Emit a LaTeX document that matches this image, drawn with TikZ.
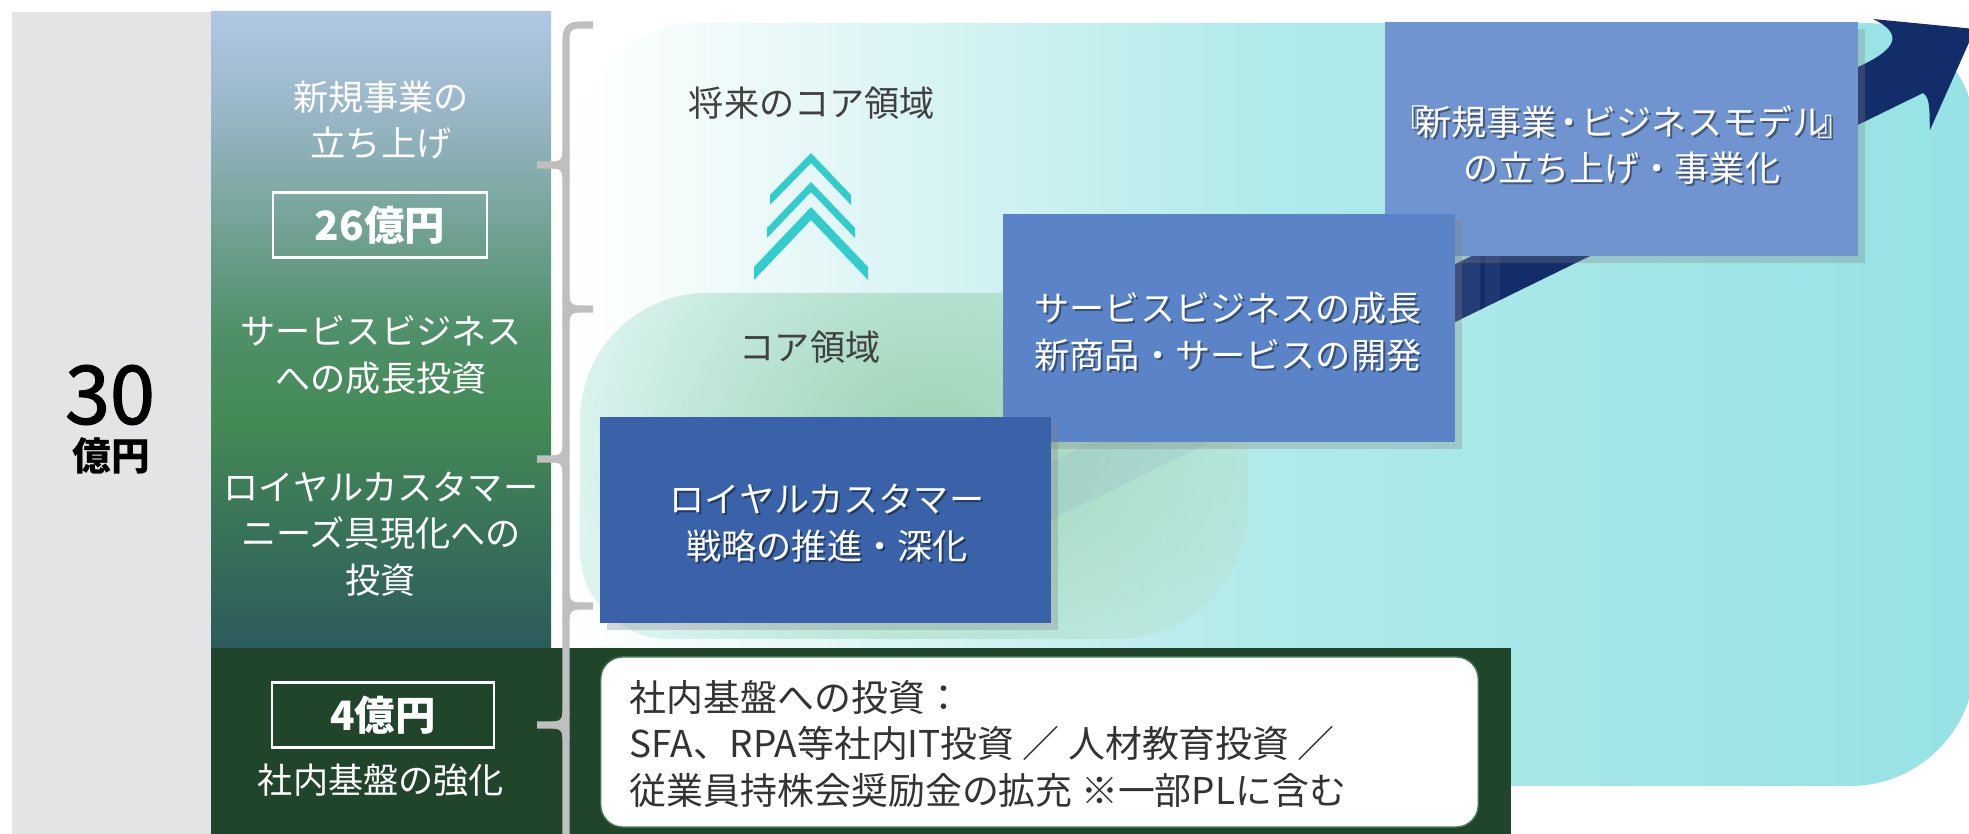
\documentclass[tikz,border=0pt]{standalone}
\usepackage{fontspec}
\setmainfont{Noto Sans CJK JP}
\newfontfamily\numfont{Noto Sans CJK JP}[UprightFeatures={FakeBold=1.6}]
\usetikzlibrary{shadows,fadings}
\definecolor{graycol}{HTML}{E3E4E6}
\definecolor{gA}{HTML}{B1C7E5}
\definecolor{gB}{HTML}{97B5C4}
\definecolor{gC}{HTML}{4F9069}
\definecolor{gD}{HTML}{448A56}
\definecolor{gE}{HTML}{2C5A5C}
\definecolor{darkgreen}{HTML}{21452B}
\definecolor{outA}{HTML}{EAF8F8}
\definecolor{outB}{HTML}{B2EAEA}
\definecolor{outC}{HTML}{96E2E4}
\definecolor{inA}{HTML}{DDF4F1}
\definecolor{inB}{HTML}{B6E8E2}
\definecolor{inG}{HTML}{9ED4B4}
\definecolor{chevcol}{HTML}{33CCCC}
\definecolor{arrownavy}{HTML}{132D6B}
\definecolor{nbcol}{HTML}{7094D0}
\definecolor{svcol}{HTML}{5B84C8}
\definecolor{lycol}{HTML}{3A62A8}
\definecolor{bracegray}{HTML}{BFBFBF}
\definecolor{darktxt}{HTML}{404040}
\definecolor{wbtxt}{HTML}{333333}
\definecolor{wbborder}{HTML}{3E7A4E}
\definecolor{tailc}{HTML}{8FB0C8}
\tikzfading[name=softblob, inner color=transparent!0, outer color=transparent!100]
\tikzset{
  coltext/.style={text=white, align=center, inner sep=0pt, font=\fontsize{10}{13.3}\selectfont},
  amtbox/.style={draw=white, line width=0.6pt, text=white, inner sep=0pt, font=\fontsize{11.5}{12}\selectfont\bfseries},
  darktext/.style={text=darktxt, inner sep=0pt, font=\fontsize{10}{12}\selectfont},
  bluebox/.style={inner sep=0pt, drop shadow={shadow xshift=2pt, shadow yshift=-2pt, opacity=0.3}},
  boxtext/.style={text=white, align=center, inner sep=0pt, font=\fontsize{10}{13.3}\selectfont},
  boxshade/.style={text=black, text opacity=0.4, align=center, inner sep=0pt, font=\fontsize{10}{13.3}\selectfont},
  brace/.style={draw=bracegray, line width=2pt},
  chev/.style={fill=chevcol},
}
\begin{document}
\begin{tikzpicture}[x=0.01cm,y=-0.01cm]
\useasboundingbox (0,0) rectangle (1969,834);
\fill[white] (0,0) rectangle (1969,834);

% left gray column
\fill[graycol] (12,12) rectangle (212,834);
% gradient column
\begin{scope}
\clip (211,12) rectangle (551,648);
\shade[top color=gA, bottom color=gB] (211,11) rectangle (551,121);
\shade[top color=gB, bottom color=gC] (211,120) rectangle (551,331);
\shade[top color=gC, bottom color=gD] (211,330) rectangle (551,421);
\shade[top color=gD, bottom color=gE] (211,420) rectangle (551,649);
\end{scope}

% outer light region
\begin{scope}
\clip (580,786) -- (580,143) .. controls (580,77) and (634,23) .. (700,23) -- (1865,23) .. controls (1926,23) and (1975,72) .. (1975,133) -- (1975,661) .. controls (1975,730) and (1919,786) .. (1850,786) -- cycle;
\shade[left color=white, right color=outA] (580,0) rectangle (781,834);
\shade[left color=outA, right color=outB] (780,0) rectangle (1251,834);
\shade[left color=outB, right color=outC] (1250,0) rectangle (1976,834);
\end{scope}

% inner core region
\begin{scope}
\clip (580,550) -- (580,420) .. controls (580,350) and (637,293) .. (707,293) -- (1247,293) -- (1247,509) .. controls (1247,581) and (1189,639) .. (1117,639) -- (670,639) .. controls (620,639) and (580,600) .. (580,550) -- cycle;
\shade[left color=inA, right color=inB] (580,290) rectangle (1250,642);
\fill[inG, path fading=softblob] (930,440) ellipse (360 and 280);
\end{scope}

% chevrons
\fill[chev] (811,153) -- (851,195) -- (851,205) -- (811,163) -- (770,205) -- (770,195) -- cycle;
\fill[chev] (811,182) -- (855,228) -- (855,238) -- (811,192) -- (767,238) -- (767,228) -- cycle;
\fill[chev] (811,207) -- (868,267) -- (868,280) -- (811,220) -- (754,280) -- (754,267) -- cycle;

\node[darktext] (fut) at (812,103) {将来のコア領域};
\node[darktext] (core) at (810,347) {コア領域};

% arrow
\fill[tailc, opacity=0.22] (1000,487) -- (1300,340) -- (1300,398) -- (1000,545) -- cycle;
\fill[arrownavy] (1300,340) -- (1858,67) .. controls (1900,48) and (1902,33) .. (1873,19) -- (1975,29) -- (1930,130) .. controls (1929,113) and (1931,98) .. (1923,93) -- (1300,398) -- cycle;
\fill[white, opacity=0.08] (1455,264) -- (1480,252) -- (1480,316) -- (1455,328) -- cycle;
\fill[white, opacity=0.05] (1485,249) -- (1500,242) -- (1500,306) -- (1485,313) -- cycle;

% blue boxes
\node[bluebox, fill=nbcol, minimum width=4.73cm, minimum height=2.34cm] (nb) at (1621.5,139) {};
\node[boxshade] (nbs) at (1624,147) {『\kern-.3em 新規事業\kern-.15em・\kern-.15em ビジネスモデル\kern-.3em』\\の立ち上げ・事業化};
\node[boxtext] (nbt) at (1622,145) {『\kern-.3em 新規事業\kern-.15em・\kern-.15em ビジネスモデル\kern-.3em』\\の立ち上げ・事業化};

\node[bluebox, fill=svcol, minimum width=4.52cm, minimum height=2.28cm] (sv) at (1229,328) {};
\node[boxshade] (svs) at (1230,334) {サービスビジネスの成長\\新商品・サービスの開発};
\node[boxtext] (svt) at (1228,332) {サービスビジネスの成長\\新商品・サービスの開発};

\node[bluebox, fill=lycol, minimum width=4.51cm, minimum height=2.06cm] (ly) at (825.5,520) {};
\node[boxshade] (lys) at (829,525) {ロイヤルカスタマー\\戦略の推進・深化};
\node[boxtext] (lyt) at (827,523) {ロイヤルカスタマー\\戦略の推進・深化};

% dark green bar
\fill[darkgreen] (211,648) rectangle (1511,834);
\node[fill=white, draw=wbborder, line width=0.4pt, rounded corners=0.22cm, minimum width=8.77cm, minimum height=1.70cm, inner sep=0pt] (wb) at (1039.5,742) {};
\node[anchor=west, align=left, text=wbtxt, inner sep=0pt, font=\fontsize{10.5}{13.1}\selectfont] (wbt) at (629,744) {社内基盤への投資：\\SFA、RPA等社内IT投資 ／ 人材教育投資 ／\\従業員持株会奨励金の拡充 ※一部PLに含む};

% braces
\draw[brace] (593,25) -- (580,25) .. controls (570,25) and (566,29) .. (566,39) -- (566,834);
\foreach \ty in {165,459,725}{
  \draw[brace] (537,\ty) -- (552,\ty) .. controls (562,\ty) and (566,\ty-4) .. (566,\ty-14);
  \draw[brace] (552,\ty) .. controls (562,\ty) and (566,\ty+4) .. (566,\ty+14);
}
\foreach \jy in {309,606}{
  \draw[brace] (593,\jy) -- (580,\jy) .. controls (570,\jy) and (566,\jy-4) .. (566,\jy-14);
  \draw[brace] (580,\jy) .. controls (570,\jy) and (566,\jy+4) .. (566,\jy+14);
}

% left column texts
\node[coltext] (t1) at (381,120) {新規事業の\\立ち上げ};
\node[amtbox, minimum width=2.14cm, minimum height=0.65cm] (a26) at (380,225) {26億円};
\node[coltext] (t2) at (381,355) {サービスビジネス\\への成長投資};
\node[coltext] (t3) at (381,534) {ロイヤルカスタマー\\ニーズ具現化への\\投資};
\node[amtbox, minimum width=2.21cm, minimum height=0.65cm] (a4) at (383,715) {4億円};
\node[coltext] (t4) at (381,780) {社内基盤の強化};

\node[inner sep=0pt, font=\fontsize{23}{23}\numfont] (n30) at (110,395) {30};
\node[inner sep=0pt, font=\fontsize{11}{12}\selectfont\bfseries] (u30) at (111,456) {億円};
\end{tikzpicture}
\end{document}
